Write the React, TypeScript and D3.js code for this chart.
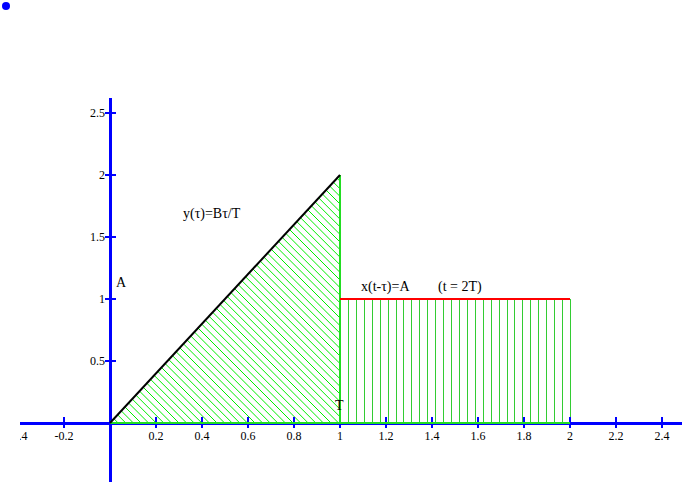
import React from "react";
import * as d3 from "d3";

const xTicks = [-0.4, -0.2, 0.2, 0.4, 0.6, 0.8, 1, 1.2, 1.4, 1.6, 1.8, 2, 2.2, 2.4];
const yTicks = [0.5, 1, 1.5, 2, 2.5];
const rampPoints: [number, number][] = [[0, 0], [1, 2]];
const trianglePoints: [number, number][] = [[0, 0], [1, 2], [1, 0]];
const stepX = [1, 2];
const stepLevel = 1;
const stripeCount = 29;

const W = 682, H = 482;

export default function App() {
  const x = d3.scaleLinear().domain([0, 1]).range([110, 340]);
  const y = d3.scaleLinear().domain([0, 1]).range([423, 299]);
  const line = d3.line<[number, number]>().x(d => x(d[0])).y(d => y(d[1]));
  const triPath = line(trianglePoints) + "Z";

  const hatch: JSX.Element[] = [];
  const sp = 7.6;
  for (let c = x(0) - 260; c < x(1) + 10; c += sp) {
    hatch.push(<line key={c} x1={c} y1={y(2) - 5} x2={c + (y(0) - y(2) + 10)} y2={y(0) + 5} stroke="#00ee00" strokeWidth={1} />);
  }
  const stripes = d3.range(stripeCount + 1).map(i => stepX[0] + (i * (stepX[1] - stepX[0])) / stripeCount);

  const font = "'Times New Roman', 'Liberation Serif', serif";
  return (
    <svg width={W} height={H} style={{ position: "absolute", left: 0, top: 0 }} fontFamily={font}>
      <rect width={W} height={H} fill="white" />
      <circle cx={6} cy={6} r={4} fill="#0000ff" />
      <defs>
        <clipPath id="tri"><path d={triPath} /></clipPath>
        <clipPath id="plot"><rect x={20} y={0} width={W - 20} height={H} /></clipPath>
      </defs>
      <g clipPath="url(#tri)">{hatch}</g>
      {stripes.map((v, i) => (
        <line key={i} x1={Math.round(x(v)) + 0.5} x2={Math.round(x(v)) + 0.5} y1={y(0)} y2={y(stepLevel)} stroke="#33cc33" strokeWidth={1} shapeRendering="crispEdges" />
      ))}
      <g clipPath="url(#plot)" shapeRendering="crispEdges">
        <line x1={20} x2={W} y1={y(0) + 0.5} y2={y(0) + 0.5} stroke="#0000ff" strokeWidth={3} />
        <line x1={x(0)} x2={x(0)} y1={98} y2={H} stroke="#0000ff" strokeWidth={3} />
        {xTicks.map(t => (
          <g key={t}>
            <line x1={x(t)} x2={x(t)} y1={y(0) - 6} y2={y(0) + 5} stroke="#0000ff" strokeWidth={1.3} />
            <text x={x(t)} y={y(0) + 17} textAnchor="middle" fontSize={12} fill="#000">{String(t)}</text>
          </g>
        ))}
        {yTicks.map(t => (
          <g key={t}>
            <line x1={x(0) - 5} x2={x(0) + 6} y1={y(t)} y2={y(t)} stroke="#0000ff" strokeWidth={1.3} />
            <text x={x(0) - 5} y={y(t) + 4} textAnchor="end" fontSize={12} fill="#000">{String(t)}</text>
          </g>
        ))}
      </g>
      <line x1={x(0)} x2={x(2)} y1={y(0)} y2={y(0)} stroke="#22dd22" strokeWidth={2} shapeRendering="crispEdges" />
      <line x1={x(1)} x2={x(1)} y1={y(0)} y2={y(2)} stroke="#22dd22" strokeWidth={1.5} shapeRendering="crispEdges" />
      <path d={line(rampPoints) || ""} stroke="#000" strokeWidth={2} fill="none" />
      <line x1={x(stepX[0])} x2={x(stepX[1])} y1={y(stepLevel)} y2={y(stepLevel)} stroke="#ff0000" strokeWidth={2} shapeRendering="crispEdges" />
      <text x={183} y={218} fontSize={14} fill="#000">y(τ)=Bτ/T</text>
      <text x={116} y={287} fontSize={14} fill="#000">A</text>
      <text x={335} y={410} fontSize={14} fill="#000">T</text>
      <text x={361} y={291} fontSize={14} fill="#000">x(t-τ)=A</text>
      <text x={438} y={291} fontSize={14} fill="#000">(t = 2T)</text>
    </svg>
  );
}
